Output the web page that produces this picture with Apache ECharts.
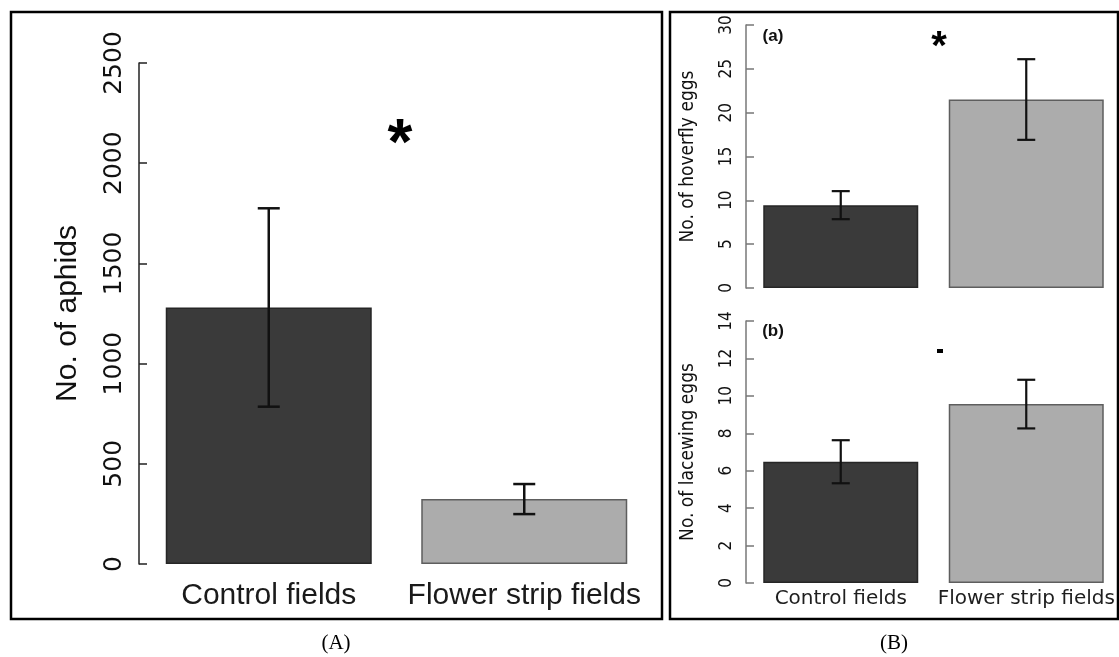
<!DOCTYPE html>
<html>
<head>
<meta charset="utf-8">
<script src="https://cdn.jsdelivr.net/npm/echarts@6/dist/echarts.min.js"></script>
<style>
html,body{margin:0;padding:0;background:#fff;}
#c{width:1119px;height:657px;}
</style>
</head>
<body>
<div id="c"></div>
<script>
// ---- data ----
const categories = ['Control fields', 'Flower strip fields'];
const aphidMean = [1280, 324];
const aphidSE = [495, 75];
const hoverflyMean = [9.45, 21.5];
const hoverflySE = [1.6, 4.6];
const lacewingMean = [6.48, 9.56];
const lacewingSE = [1.15, 1.3];
const aphidTicks = { min: 0, max: 2500, interval: 500 };
const hoverflyTicks = { min: 0, max: 30, interval: 5 };
const lacewingTicks = { min: 0, max: 14, interval: 2 };

// ---- styles ----
const barFill = ['#3a3a3a', '#acacac'];
const barEdge = ['#262626', '#5e5e5e'];
const narrow = "'Liberation Sans Narrow','DejaVu Sans Condensed','Liberation Sans',sans-serif";

function barData(vals) {
  return vals.map((v, i) => ({ value: v, itemStyle: { color: barFill[i], borderColor: barEdge[i], borderWidth: 1.5 } }));
}
function errData(mean, se) {
  return mean.map((m, i) => [i, m - se[i], m + se[i]]);
}
function errSeries(idx, mean, se, capW, lw) {
  return {
    type: 'custom', xAxisIndex: idx, yAxisIndex: idx, z: 5,
    encode: { x: 0, y: [1, 2] },
    data: errData(mean, se),
    renderItem: function (params, api) {
      const x = api.value(0);
      const p1 = api.coord([x, api.value(1)]);
      const p2 = api.coord([x, api.value(2)]);
      const h = capW / 2;
      const st = { stroke: '#111', lineWidth: lw };
      return {
        type: 'group', children: [
          { type: 'line', shape: { x1: p1[0], y1: p1[1], x2: p2[0], y2: p2[1] }, style: st },
          { type: 'line', shape: { x1: p1[0] - h, y1: p1[1], x2: p1[0] + h, y2: p1[1] }, style: st },
          { type: 'line', shape: { x1: p2[0] - h, y1: p2[1], x2: p2[0] + h, y2: p2[1] }, style: st }
        ]
      };
    }
  };
}
function yAxisCfg(idx, ticks, name, o) {
  return {
    type: 'value', gridIndex: idx, min: ticks.min, max: ticks.max, interval: ticks.interval,
    offset: 2,
    name: name, nameLocation: 'middle', nameGap: o.nameGap,
    nameTextStyle: { fontFamily: o.nameFont, fontSize: o.nameSize, color: '#111' },
    axisLine: { show: true, lineStyle: { color: o.lineColor, width: 1.5 } },
    axisTick: { show: true, inside: true, length: 8, lineStyle: { color: o.lineColor, width: 1.5 } },
    axisLabel: { rotate: 90, margin: o.labelMargin, fontFamily: o.labelFont, fontSize: o.labelSize, color: '#111',
      formatter: function (v) { return String(v); } },
    splitLine: { show: false }
  };
}
function xAxisCfg(idx, o) {
  return {
    type: 'category', gridIndex: idx, data: categories,
    axisLine: { show: false }, axisTick: { show: false },
    axisLabel: { show: o.show, margin: o.margin, fontFamily: o.font, fontSize: o.size, fontWeight: o.weight || 'normal', color: o.color || '#1a1a1a', interval: 0 }
  };
}

const chart = echarts.init(document.getElementById('c'), null, { renderer: 'canvas', width: 1119, height: 657 });
chart.setOption({
  backgroundColor: '#ffffff',
  animation: false,
  grid: [
    { left: 141, top: 63, width: 511, height: 501 },
    { left: 748, top: 25, width: 385, height: 263 },
    { left: 748, top: 321, width: 385, height: 262 }
  ],
  xAxis: [
    xAxisCfg(0, { show: true, margin: 17, font: 'Liberation Sans', size: 30 }),
    xAxisCfg(1, { show: false }),
    xAxisCfg(2, { show: true, margin: 6, font: 'DejaVu Sans', size: 20, color: '#1e1e1e' })
  ],
  yAxis: [
    yAxisCfg(0, aphidTicks, 'No. of aphids', { nameGap: 56, nameFont: 'Liberation Sans', labelFont: 'DejaVu Sans', nameSize: 30, labelSize: 25, labelMargin: 12, lineColor: '#222' }),
    yAxisCfg(1, hoverflyTicks, 'No. of hoverfly eggs', { nameGap: 48, nameFont: narrow, labelFont: narrow, nameSize: 19, labelSize: 17, labelMargin: 11, lineColor: '#777' }),
    yAxisCfg(2, lacewingTicks, 'No. of lacewing eggs', { nameGap: 48, nameFont: narrow, labelFont: narrow, nameSize: 19, labelSize: 17, labelMargin: 11, lineColor: '#777' })
  ],
  series: [
    { type: 'bar', xAxisIndex: 0, yAxisIndex: 0, barWidth: 206, data: barData(aphidMean) },
    errSeries(0, aphidMean, aphidSE, 22, 2.5),
    { type: 'bar', xAxisIndex: 1, yAxisIndex: 1, barWidth: 155, data: barData(hoverflyMean) },
    errSeries(1, hoverflyMean, hoverflySE, 18, 2.2),
    { type: 'bar', xAxisIndex: 2, yAxisIndex: 2, barWidth: 155, data: barData(lacewingMean) },
    errSeries(2, lacewingMean, lacewingSE, 18, 2.2)
  ],
  graphic: [
    { type: 'rect', shape: { x: 11, y: 12, width: 651, height: 607 }, style: { fill: 'none', stroke: '#000', lineWidth: 2.5 }, z: 10 },
    { type: 'rect', shape: { x: 670, y: 12, width: 448, height: 607 }, style: { fill: 'none', stroke: '#000', lineWidth: 2.5 }, z: 10 },
    { type: 'text', x: 400, y: 146, style: { text: '*', font: 'bold 64px Liberation Sans', fill: '#000', textAlign: 'center', textVerticalAlign: 'middle' }, z: 10 },
    { type: 'text', x: 939, y: 48, style: { text: '*', font: 'bold 40px Liberation Sans', fill: '#000', textAlign: 'center', textVerticalAlign: 'middle' }, z: 10 },
    { type: 'rect', shape: { x: 937, y: 349, width: 6, height: 4 }, style: { fill: '#000' }, z: 10 },
    { type: 'text', x: 773, y: 36, style: { text: '(a)', font: "bold 17px 'Liberation Sans Narrow','Liberation Sans'", fill: '#111', textAlign: 'center', textVerticalAlign: 'middle' }, z: 10 },
    { type: 'text', x: 773, y: 331, style: { text: '(b)', font: "bold 17px 'Liberation Sans Narrow','Liberation Sans'", fill: '#111', textAlign: 'center', textVerticalAlign: 'middle' }, z: 10 },
    { type: 'text', x: 336, y: 643, style: { text: '(A)', font: '21px Liberation Serif', fill: '#000', textAlign: 'center', textVerticalAlign: 'middle' }, z: 10 },
    { type: 'text', x: 894, y: 643, style: { text: '(B)', font: '21px Liberation Serif', fill: '#000', textAlign: 'center', textVerticalAlign: 'middle' }, z: 10 }
  ]
});
</script>
</body>
</html>
